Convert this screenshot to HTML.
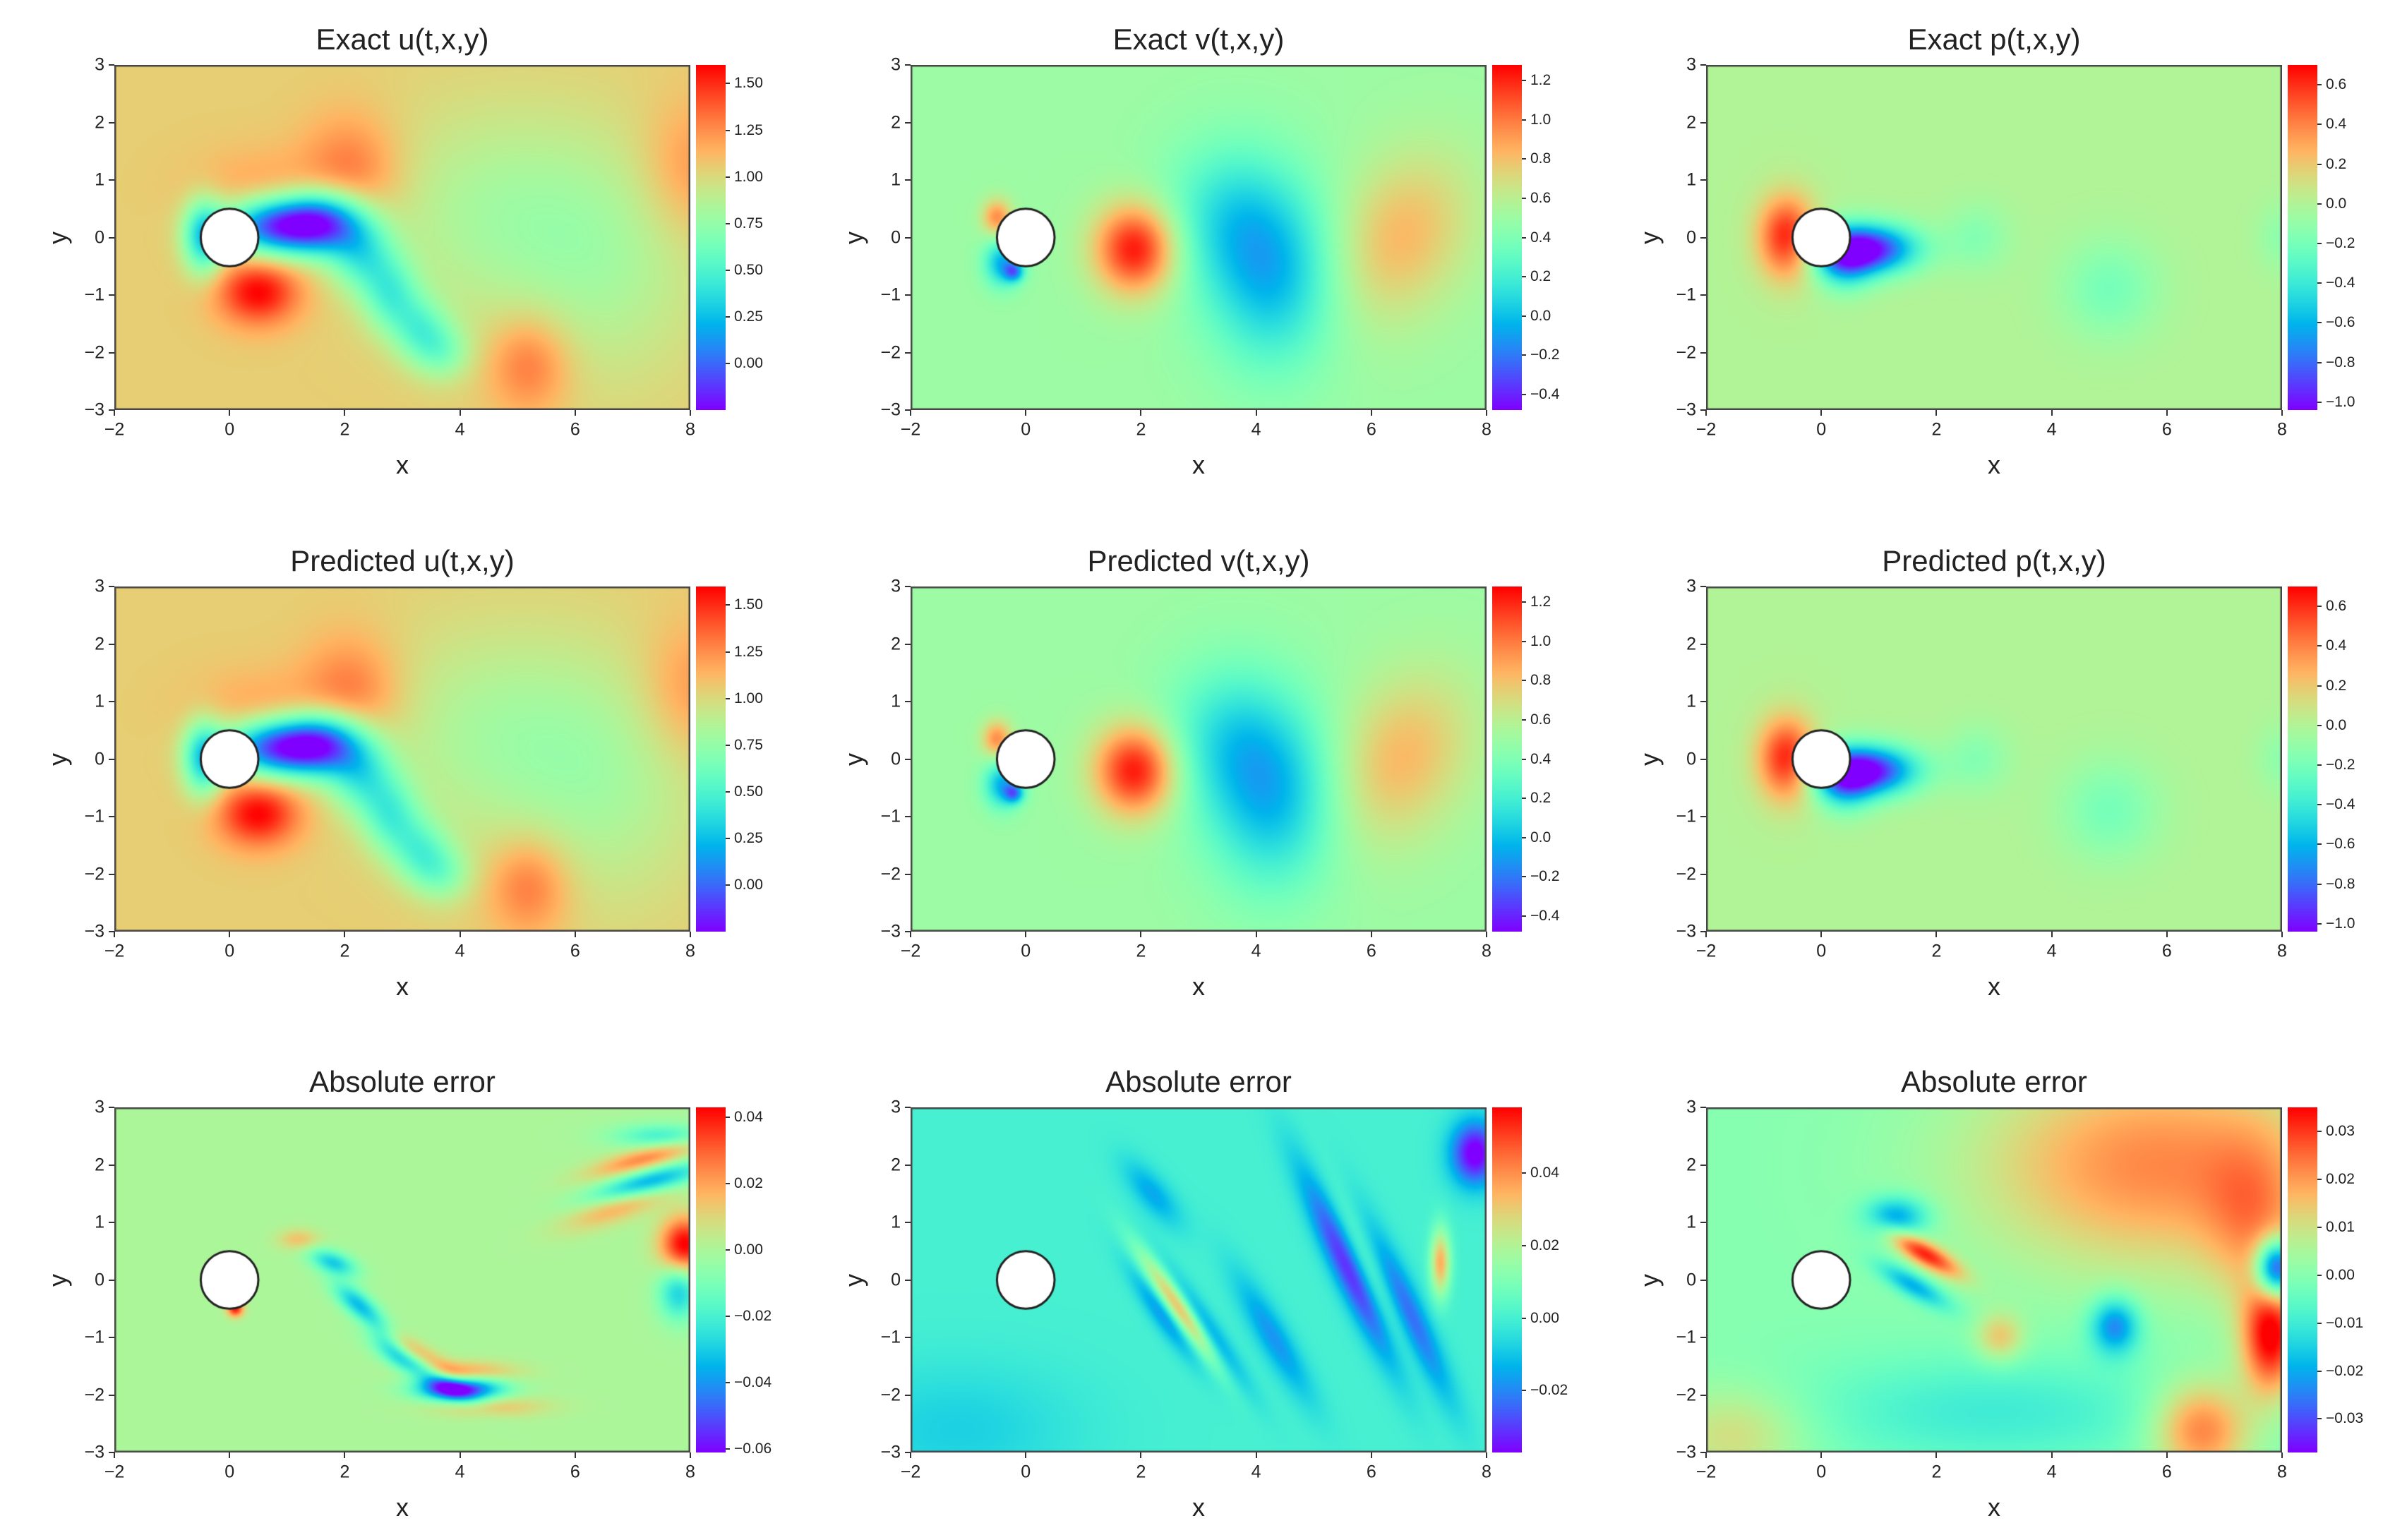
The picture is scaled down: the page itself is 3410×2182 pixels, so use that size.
<!DOCTYPE html>
<html><head><meta charset="utf-8"><style>
body{margin:0;background:#fff;}
#root{position:relative;width:3410px;height:2182px;background:#fff;overflow:hidden;font-family:"Liberation Sans",sans-serif;}
.t{position:absolute;color:#222;white-space:nowrap;}
canvas{position:absolute;}
</style></head><body><div id="root"></div>
<script>
// ---- data: field components as gaussian blobs [x, y, sx, sy, angleDeg, amplitude] ----
const uBase = 1.05;
const uBlobs = [[0.9,0.2,0.7,0.35,0,-1.2],[1.7,0.3,0.5,0.4,0,-0.7],[2.3,-0.3,0.4,0.45,0,-0.5],[2.8,-1.0,0.35,0.45,0,-0.45],[3.3,-1.6,0.35,0.4,0,-0.4],[3.7,-2.0,0.35,0.35,0,-0.3],[-0.45,0,0.25,0.45,0,-0.7],[0.5,-0.95,0.5,0.4,0,0.55],[2.1,1.1,0.6,0.7,0,0.3],[5.2,-2.2,0.5,0.6,0,0.3],[4.6,0.4,1.5,1.3,0,-0.22],[6.6,-0.5,1.2,1.5,0,-0.18],[8.0,1.2,0.6,0.8,0,0.2],[0.5,0.8,0.8,0.5,0,0.15]];
const vBase = 0.5;
const vBlobs = [[1.9,-0.2,0.5,0.55,0,0.75],[4.3,-0.7,0.8,1.1,0,-0.5],[3.5,0.4,0.8,0.9,0,-0.3],[6.5,0.0,0.8,1.1,-30,0.33],[-0.5,0.35,0.18,0.22,0,0.45],[-0.4,-0.45,0.22,0.28,0,-0.55],[-0.2,-0.6,0.12,0.12,0,-0.5]];
const pBase = 0.0;
const pBlobs = [[-0.6,0,0.35,0.5,0,0.65],[0.8,-0.2,0.6,0.3,0,-1.0],[0.4,-0.4,0.35,0.35,0,-0.5],[2.7,0,0.4,0.4,0,-0.15],[5.0,-0.9,0.6,0.6,0,-0.2],[8.0,0,0.3,0.4,0,-0.12]];
const euBase = 0.0;
const euBlobs = [[4.0,-1.9,0.5,0.15,0,-0.06],[3.4,-1.6,0.6,0.15,-30,-0.03],[3.3,-1.3,0.6,0.13,-30,0.02],[4.1,-1.6,0.6,0.13,0,0.02],[4.5,-2.2,0.7,0.13,0,0.015],[1.8,0.3,0.3,0.14,-20,-0.03],[2.2,-0.4,0.35,0.15,-40,-0.03],[2.7,-1.0,0.4,0.15,-50,-0.02],[1.2,0.7,0.25,0.13,0,0.015],[7.9,0.6,0.3,0.35,0,0.045],[7.8,-0.2,0.25,0.35,0,-0.03],[7.3,1.7,0.7,0.16,15,-0.04],[7.2,2.1,0.7,0.14,15,0.025],[6.8,1.3,0.7,0.18,20,0.02],[7.5,2.5,0.6,0.15,0,-0.02],[0.1,-0.5,0.1,0.1,0,0.04]];
const evBase = 0.0;
const evBlobs = [[2.7,-0.5,0.15,0.8,35,0.05],[3.0,-0.7,0.15,0.9,35,-0.03],[2.4,-0.6,0.15,0.7,35,-0.02],[5.6,0.2,0.2,1.3,25,-0.033],[6.6,-0.5,0.2,1.2,25,-0.028],[6.1,0.0,0.2,1.1,25,0.015],[7.8,2.2,0.3,0.4,0,-0.04],[7.2,0.3,0.12,0.4,0,0.035],[4.3,-1.0,0.2,0.9,30,-0.018],[-1.2,-2.6,1.5,0.8,0,-0.008],[2.2,1.5,0.2,0.5,40,-0.015]];
const epBase = 0.0;
const epBlobs = [[5.8,2.0,2.2,1.3,0,0.022],[7.8,-1.0,0.35,0.7,0,0.035],[6.6,-2.6,0.6,0.6,0,0.025],[7.9,0.2,0.25,0.35,0,-0.045],[5.1,-0.8,0.3,0.35,0,-0.025],[1.3,1.1,0.4,0.25,0,-0.022],[1.8,0.45,0.5,0.15,-30,0.03],[1.6,-0.1,0.5,0.15,-30,-0.02],[3.0,-2.3,2.5,0.7,0,-0.01],[-1.5,-2.7,0.9,0.6,0,0.012],[3.1,-1.0,0.3,0.3,0,0.015],[7.5,1.0,0.6,1.0,0,0.012]];
// colorbar ranges and tick labels
const uRange = [-0.25, 1.60], uTicks = [0.00,0.25,0.50,0.75,1.00,1.25,1.50];
const vRange = [-0.48, 1.28], vTicks = [-0.4,-0.2,0.0,0.2,0.4,0.6,0.8,1.0,1.2];
const pRange = [-1.04, 0.70], pTicks = [-1.0,-0.8,-0.6,-0.4,-0.2,0.0,0.2,0.4,0.6];
const euRange = [-0.061, 0.043], euTicks = [-0.06,-0.04,-0.02,0.00,0.02,0.04];
const evRange = [-0.037, 0.058], evTicks = [-0.02,0.00,0.02,0.04];
const epRange = [-0.037, 0.035], epTicks = [-0.03,-0.02,-0.01,0.00,0.01,0.02,0.03];
const xTicks = [-2,0,2,4,6,8], yTicks = [-3,-2,-1,0,1,2,3];
const titles = [["Exact u(t,x,y)","Exact v(t,x,y)","Exact p(t,x,y)"],["Predicted u(t,x,y)","Predicted v(t,x,y)","Predicted p(t,x,y)"],["Absolute error","Absolute error","Absolute error"]];

const root = document.getElementById('root');
const W = 816, H = 489;
function rainbow(t){t=Math.max(0,Math.min(1,t));
 return [Math.min(1,Math.abs(2*t-0.5)),Math.sin(Math.PI*t),Math.cos(Math.PI*t/2)].map(v=>Math.round(Math.max(0,Math.min(1,v))*255));}
function field(base,blobs,x,y){let v=base;for(const b of blobs){const a=b[4]*Math.PI/180,dx=x-b[0],dy=y-b[1];
 const rx=dx*Math.cos(a)+dy*Math.sin(a),ry=-dx*Math.sin(a)+dy*Math.cos(a);v+=b[5]*Math.exp(-(rx*rx/(2*b[2]*b[2])+ry*ry/(2*b[3]*b[3])));}return v;}
function txt(s,x,y,size,anchor,name,extra){const d=document.createElement('div');d.className='t';d.textContent=s;
 d.style.fontSize=size+'px';d.style.left=x+'px';d.style.top=y+'px';
 d.style.transform=(anchor==='c'?'translate(-50%,-50%)':anchor==='r'?'translate(-100%,-50%)':'translate(0,-50%)')+(extra||'');
 
 
 root.appendChild(d);return d;}
const panels=[[[uBase,uBlobs,uRange,uTicks,2],[vBase,vBlobs,vRange,vTicks,1],[pBase,pBlobs,pRange,pTicks,1]],
 [[uBase,uBlobs,uRange,uTicks,2],[vBase,vBlobs,vRange,vTicks,1],[pBase,pBlobs,pRange,pTicks,1]],
 [[euBase,euBlobs,euRange,euTicks,2],[evBase,evBlobs,evRange,evTicks,2],[epBase,epBlobs,epRange,epTicks,2]]];
for(let r=0;r<3;r++)for(let c=0;c<3;c++){
 const [base,blobs,rng,ticks,dec]=panels[r][c];
 const L=Math.round(162+c*1127.5),T=Math.round(92+r*738.5);
 const sx=x=>L+(x+2)/10*W, sy=y=>T+(3-y)/6*H;
 const cv=document.createElement('canvas');cv.width=W;cv.height=H;cv.style.left=L+'px';cv.style.top=T+'px';
 
 
 root.appendChild(cv);
 const ctx=cv.getContext('2d');const img=ctx.createImageData(W,H);
 for(let j=0;j<H;j++){const y=3-(j+0.5)/H*6;for(let i=0;i<W;i++){const x=-2+(i+0.5)/W*10;
  const v=field(base,blobs,x,y);const col=rainbow((v-rng[0])/(rng[1]-rng[0]));const k=(j*W+i)*4;
  img.data[k]=col[0];img.data[k+1]=col[1];img.data[k+2]=col[2];img.data[k+3]=255;}}
 ctx.putImageData(img,0,0);
 ctx.beginPath();ctx.arc(sx(0)-L,sy(0)-T,0.5/10*W,0,2*Math.PI);ctx.fillStyle='#fff';ctx.fill();ctx.lineWidth=3;ctx.strokeStyle='#222';ctx.stroke();
 ctx.strokeStyle='#444';ctx.lineWidth=3;ctx.strokeRect(1,1,W-2,H-2);
 txt(titles[r][c],L+W/2,T-36,42,'c','panel-title');
 for(const t of xTicks){const x=sx(t);const tk=document.createElement('div');tk.style.cssText=`position:absolute;left:${x-1}px;top:${T+H}px;width:2px;height:8px;background:#333`;
  
  
  root.appendChild(tk);
  txt(t<0?'\u2212'+(-t):String(t),x,T+H+28,25,'c','x-tick-label');}
 for(const t of yTicks){const y=sy(t);const tk=document.createElement('div');tk.style.cssText=`position:absolute;left:${L-8}px;top:${y-1}px;width:8px;height:2px;background:#333`;
  
  
  root.appendChild(tk);
  txt(t<0?'\u2212'+(-t):String(t),L-14,y,25,'r','y-tick-label');}
 txt('x',L+W/2,T+H+78,36,'c','x-axis-title');
 txt('y',L-80,T+H/2,36,'c','y-axis-title',' rotate(-90deg)');
 const CL=L+W+8,CW=42;
 const cb=document.createElement('canvas');cb.width=CW;cb.height=H;cb.style.left=CL+'px';cb.style.top=T+'px';
 
 
 root.appendChild(cb);
 const cc=cb.getContext('2d');
 for(let j=0;j<H;j++){const col=rainbow(1-(j+0.5)/H);cc.fillStyle=`rgb(${col[0]},${col[1]},${col[2]})`;cc.fillRect(0,j,CW,1);}
 for(const t of ticks){const y=T+(rng[1]-t)/(rng[1]-rng[0])*H;
  const tk=document.createElement('div');tk.style.cssText=`position:absolute;left:${CL+CW}px;top:${y-1}px;width:6px;height:2px;background:#333`;
  
  
  root.appendChild(tk);
  txt((t<0?'\u2212':'')+Math.abs(t).toFixed(dec),CL+CW+12,y,21,'l','colorbar-tick-label');}
}
</script></body></html>
